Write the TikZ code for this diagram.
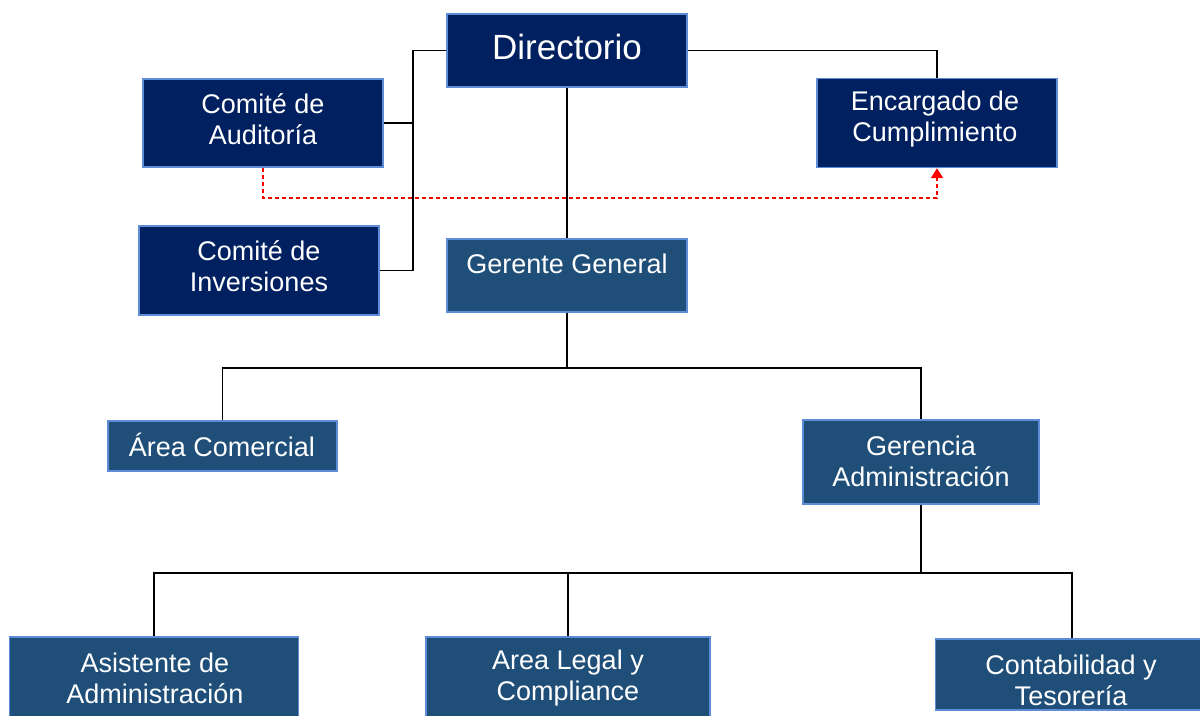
\documentclass[tikz,border=0pt]{standalone}
\usepackage{fontspec}
\setmainfont{Liberation Sans}
\usetikzlibrary{arrows.meta}
\definecolor{navy}{RGB}{0,32,96}
\definecolor{steel}{RGB}{31,78,121}
\definecolor{edgeblue}{RGB}{95,140,215}
\tikzset{
  boxbase/.style={draw=edgeblue, line width=0.7pt, inner sep=0pt},
  navybox/.style={boxbase, fill=navy},
  steelbox/.style={boxbase, fill=steel},
  txt/.style={text=white, inner sep=0pt, align=center, font=\fontsize{13.5pt}{15.6pt}\selectfont},
  bigtxt/.style={text=white, inner sep=0pt, align=center, font=\fontsize{17.5pt}{20pt}\selectfont},
  conn/.style={draw=black, line width=0.9pt},
  dashconn/.style={draw=red, line width=0.9pt, dash pattern=on 2pt off 1.5pt, -{Triangle[width=6pt,length=5pt]}}
}
\begin{document}
\begin{tikzpicture}[x=0.5pt,y=-0.5pt]
\useasboundingbox (0,0) rectangle (1200,716);
% boxes
\node[navybox, minimum width=120pt, minimum height=36.5pt] (dir) at (567,50.5) {};
\node[navybox, minimum width=120pt, minimum height=44pt] (aud) at (263,123) {};
\node[navybox, minimum width=120pt, minimum height=44.5pt] (inv) at (259,270.5) {};
\node[navybox, minimum width=120pt, minimum height=44.5pt] (enc) at (937,123) {};
\node[steelbox, minimum width=120pt, minimum height=36.5pt] (ger) at (567,275.5) {};
\node[steelbox, minimum width=114.5pt, minimum height=25pt] (com) at (222.5,446) {};
\node[steelbox, minimum width=118pt, minimum height=42pt] (gad) at (921,462) {};
\node[steelbox, minimum width=144.5pt, minimum height=44pt] (asi) at (154,681) {};
\node[steelbox, minimum width=142pt, minimum height=44pt] (leg) at (568,681) {};
\node[steelbox, minimum width=136.5pt, minimum height=35.5pt] (con) at (1072,674.5) {};
% texts
\node[bigtxt] (dirT) at (567,47) {Directorio};
\node[txt] (audT) at (263,119.5) {Comité de\\Auditoría};
\node[txt] (invT) at (259,266) {Comité de\\Inversiones};
\node[txt] (encT) at (935,119) {Encargado de\\Cumplimiento};
\node[txt] (gerT) at (567,264) {Gerente General};
\node[txt] (comT) at (222,445) {Área Comercial};
\node[txt] (gadT) at (921,461) {Gerencia\\Administración};
\node[txt] (asiT) at (155,678) {Asistente de\\Administración};
\node[txt] (legT) at (568,678) {Area Legal y\\Compliance};
\node[txt] (conT) at (1071,680) {Contabilidad y\\Tesorería};
% connectors
\coordinate (trunk) at (413,52);
\draw[conn] (dir.west) -- (trunk |- dir.west) -- (trunk |- inv.east) -- (inv.east);
\draw[conn] (aud.east) -- (trunk |- aud.east);
\draw[conn] (dir.east) -| (enc.north);
\draw[dashconn] (aud.south) -- ++(0,30) -| (enc.south);
\draw[conn] (dir.south) -- (ger.north);
\draw[conn] (ger.south) -- ++(0,55) coordinate (b1);
\draw[conn] (com.north) |- (b1) -| (gad.north);
\draw[conn] (gad.south) -- ++(0,68) coordinate (b2);
\draw[conn] (asi.north) |- (b2) -| (con.north);
\draw[conn] (leg.north) -- (leg.north |- b2);
\end{tikzpicture}
\end{document}
